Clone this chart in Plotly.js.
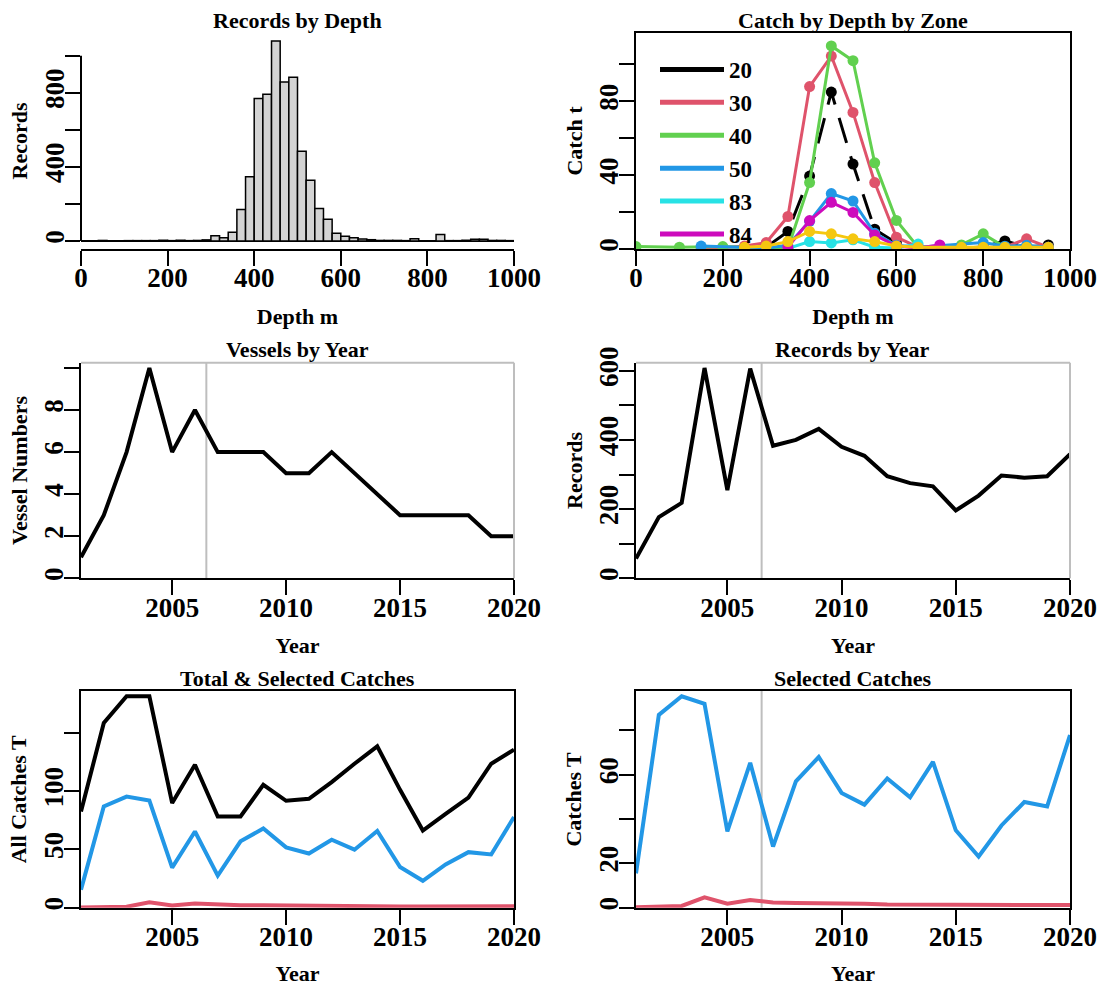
<!DOCTYPE html>
<html><head><meta charset="utf-8">
<script src="https://cdn.plot.ly/plotly-3.0.1.min.js"></script>
<style>html,body{margin:0;padding:0;background:#fff}#chart{width:1105px;height:986px}</style>
</head><body><div id="chart"></div>
<script>
// ---------- DATA ----------
// Records by Depth: 20 m bins (start of each bin) and counts
const binStarts = [0,20,40,60,80,100,120,140,160,180,200,220,240,260,280,300,320,340,360,380,400,420,440,460,480,500,520,540,560,580,600,620,640,660,680,700,720,740,760,780,800,820,840,860,880,900,920,940,960,980];
const binCounts = [0,0,3,0,0,2,2,2,2,4,2,4,2,3,6,28,18,47,170,346,769,792,1079,858,884,484,328,176,118,42,25,17,11,7,3,3,3,2,12,1,1,35,2,2,4,10,10,3,3,2];
const binWidth = 20;

// Catch by Depth by Zone
const depths = [0,50,100,150,200,250,300,350,400,450,500,550,600,650,700,750,800,850,900,950];
const zoneNames = ["20","30","40","50","83","84","85"];
const zone20 = [null,null,null,null,null,null,1,9.5,39.5,85,46,10.7,3.3,1,null,0.5,1,4.4,1,2.2];
const zone30 = [null,null,null,0.5,0.7,1.6,3.5,17.6,88,104.5,74,36,6.4,1,0.5,0.5,1,1,5.5,1];
const zone40 = [1.3,null,1,null,1.3,null,0.3,0.3,36,110,102,46.7,15.5,1,null,2.2,8.2,1,null,null];
const zone50 = [null,null,null,1.6,null,null,0.5,2,15,30,26,8.5,2,1,null,null,3.5,1.5,2,1];
const zone83 = [null,null,null,null,null,null,null,0.3,4,3.3,5,1,0.5,2.7,null,null,null,null,null,null];
const zone84 = [null,null,null,null,null,null,null,1,15.4,25.3,19.8,7.6,1.6,0.5,2.2,null,null,null,null,null];
const zone85 = [null,null,null,null,null,0.9,1.6,4,9.5,8.2,5.5,4,1.6,0.9,null,0.9,0.9,0.9,0.9,0.9];

// Yearly series
const years = [2001,2002,2003,2004,2005,2006,2007,2008,2009,2010,2011,2012,2013,2014,2015,2016,2017,2018,2019,2020];
const vessels = [1,3,6,10,6,8,6,6,6,5,5,6,5,4,3,3,3,3,2,2];
const records = [57,177,218,608,255,606,383,400,432,380,354,295,275,266,196,239,297,291,295,359];
const totalCatch = [82.6,158.6,181.5,181.5,89.8,122.7,78.3,78.3,105.5,91.8,93.5,107.8,123.6,138.5,101.2,66.2,80.6,94.6,123.6,135.6];
const selectedCatch = [15.5,87,95.4,92,34.4,65.4,27.6,57,68,51.8,46.5,58.3,49.8,65.8,34.9,23.1,37.1,47.7,45.7,77.9];
const otherCatch = [0.2,0.3,0.8,4.7,1.8,3.5,2.4,2.1,2.1,1.8,1.8,1.4,1.4,1.1,1.1,1.1,1.2,1.2,1.2,1.2];
const cutYear = 2006.5;

// Tick values and labels
const depthTicks = [0,200,400,600,800,1000];
const histYTicks = [0,200,400,600,800,1000];
const histYLabels = ["0","","400","","800",""];
const catchYTicks = [0,20,40,60,80,100];
const catchYLabels = ["0","","40","","80",""];
const yearTicks = [2005,2010,2015,2020];
const vesselTicks = [0,2,4,6,8,10];
const vesselLabels = ["0","2","4","6","8",""];
const recordTicks = [0,100,200,300,400,500,600];
const recordLabels = ["0","","200","","400","","600"];
const totalTicks = [0,50,100,150];
const totalLabels = ["0","50","100",""];
const selTicks = [0,20,40,60,80];
const selLabels = ["0","20","","60",""];

// Titles
const titles = ["Records by Depth","Catch by Depth by Zone","Vessels by Year","Records by Year","Total & Selected Catches","Selected Catches"];

// ---------- STYLE ----------
const F = "Liberation Serif, Times New Roman, serif";
const W = 1105, H = 986;
const colL = [81/W, 514/W], colR = [636/W, 1070/W];
const row1 = [1-249/H, 1-33/H], row2 = [1-578.3/H, 1-362.7/H], row3 = [1-907.7/H, 1-691/H];
const zoneCols = ["#000000","#DF536B","#61D04F","#2297E6","#28E2E5","#CD0BBC","#F5C710"];
const BLUE = "#2297E6", RED = "#DF536B", GREY = "#BEBEBE";

function tfont(){ return {family:F, size:27, color:"#000", weight:"bold"}; }
function titleObj(t, standoff){ return {text:t, font:{family:F, size:22, color:"#000", weight:"bold"}, standoff:standoff}; }
function ax(extra){
  return Object.assign({showgrid:false, zeroline:false, ticks:"outside", ticklen:15, tickwidth:2,
    tickcolor:"#000", showline:true, linecolor:"#000", linewidth:2, tickfont:tfont(),
    automargin:false, fixedrange:true}, extra);
}
function xax(extra){ return ax(Object.assign({ticklabelstandoff:-11}, extra)); }
function yax(extra){ return ax(Object.assign({ticklabelstandoff:-10, tickangle:-90}, extra)); }
function maxOf(a){ return Math.max.apply(null, a.filter(v=>v!==null)); }

// ---------- TRACES ----------
const traces = [];
// histogram
traces.push({type:"bar", x:binStarts, y:binCounts, width:binWidth, offset:0,
  marker:{color:"#D3D3D3", line:{color:"#000", width:1.5}}, xaxis:"x", yaxis:"y", showlegend:false, hoverinfo:"x+y"});

// legend-only entries (first six zones)
const zoneData = [zone20,zone30,zone40,zone50,zone83,zone84,zone85];
for(let i=0;i<6;i++){
  traces.push({type:"scatter", mode:"lines", x:[null], y:[null], name:zoneNames[i], xaxis:"x2", yaxis:"y2",
    line:{color:zoneCols[i], width:5}, showlegend:true, hoverinfo:"skip"});
}
for(let i=0;i<7;i++){
  traces.push({type:"scatter", mode:"lines+markers", x:depths, y:zoneData[i], name:zoneNames[i],
    xaxis:"x2", yaxis:"y2", connectgaps:true, showlegend:false,
    line:{color:zoneCols[i], width:3, dash: i===0 ? "26px,14px" : "solid"},
    marker:{color:zoneCols[i], size:11}});
}
const LW = 4;
// vessels
traces.push({type:"scatter", mode:"lines", x:years, y:vessels, xaxis:"x3", yaxis:"y3", showlegend:false, line:{color:"#000", width:LW}});
// records
traces.push({type:"scatter", mode:"lines", x:years, y:records, xaxis:"x4", yaxis:"y4", showlegend:false, line:{color:"#000", width:LW}});
// total & selected
traces.push({type:"scatter", mode:"lines", x:years, y:totalCatch, xaxis:"x5", yaxis:"y5", showlegend:false, line:{color:"#000", width:LW}});
traces.push({type:"scatter", mode:"lines", x:years, y:selectedCatch, xaxis:"x5", yaxis:"y5", showlegend:false, line:{color:BLUE, width:LW}});
traces.push({type:"scatter", mode:"lines", x:years, y:otherCatch, xaxis:"x5", yaxis:"y5", showlegend:false, line:{color:RED, width:LW}});
// selected
traces.push({type:"scatter", mode:"lines", x:years, y:selectedCatch, xaxis:"x6", yaxis:"y6", showlegend:false, line:{color:BLUE, width:LW}});
traces.push({type:"scatter", mode:"lines", x:years, y:otherCatch, xaxis:"x6", yaxis:"y6", showlegend:false, line:{color:RED, width:LW}});

// ---------- LAYOUT ----------
const hmax = maxOf(binCounts);
const XS = 16;
const layout = {
  width:W, height:H, margin:{l:0,r:0,t:0,b:0}, paper_bgcolor:"#fff", plot_bgcolor:"rgba(0,0,0,0)",
  font:{family:F, color:"#000"},
  showlegend:true, hovermode:false,
  legend:{x:655/W, y:1-48/H, xanchor:"left", yanchor:"top", bgcolor:"rgba(0,0,0,0)", itemwidth:64,
    font:{family:F, size:23, color:"#000", weight:"bold"}, tracegroupgap:0},
  xaxis: xax({domain:colL, anchor:"y", range:[0,1000], tickvals:depthTicks, title:titleObj("Depth m",XS)}),
  yaxis: yax({domain:row1, anchor:"x", range:[-0.04*hmax, 1.04*hmax], tickvals:histYTicks, ticktext:histYLabels,
    showline:false, zeroline:true, zerolinecolor:"#000", zerolinewidth:1.5, title:titleObj("Records",6)}),
  xaxis2: xax({domain:colR, anchor:"y2", range:[0,1000], tickvals:depthTicks, mirror:true, title:titleObj("Depth m",XS)}),
  yaxis2: yax({domain:row1, anchor:"x2", range:[0,117], tickvals:catchYTicks, ticktext:catchYLabels, mirror:true, title:titleObj("Catch t",6)}),
  xaxis3: xax({domain:colL, anchor:"y3", range:[years[0], years[years.length-1]], tickvals:yearTicks, title:titleObj("Year",XS)}),
  yaxis3: yax({domain:row2, anchor:"x3", range:[0, maxOf(vessels)*1.025], tickvals:vesselTicks, ticktext:vesselLabels, title:titleObj("Vessel Numbers",6)}),
  xaxis4: xax({domain:colR, anchor:"y4", range:[years[0], years[years.length-1]], tickvals:yearTicks, title:titleObj("Year",XS)}),
  yaxis4: yax({domain:row2, anchor:"x4", range:[0, maxOf(records)*1.025], tickvals:recordTicks, ticktext:recordLabels, title:titleObj("Records",6)}),
  xaxis5: xax({domain:colL, anchor:"y5", range:[years[0], years[years.length-1]], tickvals:yearTicks, mirror:true, title:titleObj("Year",XS)}),
  yaxis5: yax({domain:row3, anchor:"x5", range:[0, maxOf(totalCatch)*1.025], tickvals:totalTicks, ticktext:totalLabels, mirror:true, title:titleObj("All Catches T",6)}),
  xaxis6: xax({domain:colR, anchor:"y6", range:[years[0], years[years.length-1]], tickvals:yearTicks, mirror:true, title:titleObj("Year",XS)}),
  yaxis6: yax({domain:row3, anchor:"x6", range:[0, maxOf(selectedCatch)*1.025], tickvals:selTicks, ticktext:selLabels, mirror:true, title:titleObj("Catches T",6)}),
  shapes:[
    // histogram y-axis line from first to last tick
    {type:"line", xref:"x domain", yref:"y", x0:0, x1:0, y0:histYTicks[0], y1:histYTicks[histYTicks.length-1], line:{color:"#000", width:2}},
    // grey boxes (top & right) on row 2
    {type:"line", xref:"x3 domain", yref:"y3 domain", x0:0, x1:1, y0:1, y1:1, line:{color:GREY, width:2}},
    {type:"line", xref:"x3 domain", yref:"y3 domain", x0:1, x1:1, y0:0, y1:1, line:{color:GREY, width:2}},
    {type:"line", xref:"x4 domain", yref:"y4 domain", x0:0, x1:1, y0:1, y1:1, line:{color:GREY, width:2}},
    {type:"line", xref:"x4 domain", yref:"y4 domain", x0:1, x1:1, y0:0, y1:1, line:{color:GREY, width:2}},
    // cut-year reference lines
    {type:"line", xref:"x3", yref:"y3 domain", x0:cutYear, x1:cutYear, y0:0, y1:1, line:{color:GREY, width:2}, layer:"below"},
    {type:"line", xref:"x4", yref:"y4 domain", x0:cutYear, x1:cutYear, y0:0, y1:1, line:{color:GREY, width:2}, layer:"below"},
    {type:"line", xref:"x6", yref:"y6 domain", x0:cutYear, x1:cutYear, y0:0, y1:1, line:{color:GREY, width:2}, layer:"below"}
  ],
  annotations:[]
};
const titlePos = [[colL,20],[colR,20],[colL,349],[colR,349],[colL,678],[colR,678]];
titles.forEach((t,i)=>{
  const c = titlePos[i][0];
  layout.annotations.push({text:t, xref:"paper", yref:"paper", x:(c[0]+c[1])/2, y:1-titlePos[i][1]/H,
    xanchor:"center", yanchor:"middle", showarrow:false, font:{family:F, size:22, color:"#000", weight:"bold"}});
});

Plotly.newPlot("chart", traces, layout, {displayModeBar:false, staticPlot:true});
</script></body></html>
